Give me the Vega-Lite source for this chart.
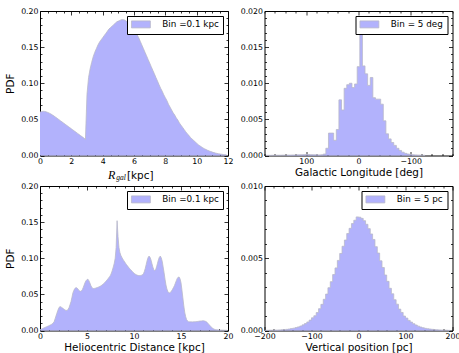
{
  "$schema": "https://vega.github.io/schema/vega-lite/v6.json",
  "background": "white",
  "padding": {"left": 5, "top": 6, "right": 0, "bottom": 0},
  "datasets": {
    "rgal": [
      {"lo": 0.0, "pdf": 0.0600}, {"lo": 0.1, "pdf": 0.0608}, {"lo": 0.2, "pdf": 0.0612}, {"lo": 0.3, "pdf": 0.0610},
      {"lo": 0.4, "pdf": 0.0604}, {"lo": 0.5, "pdf": 0.0596}, {"lo": 0.6, "pdf": 0.0586}, {"lo": 0.7, "pdf": 0.0574},
      {"lo": 0.8, "pdf": 0.0560}, {"lo": 0.9, "pdf": 0.0545}, {"lo": 1.0, "pdf": 0.0530}, {"lo": 1.1, "pdf": 0.0514},
      {"lo": 1.2, "pdf": 0.0498}, {"lo": 1.3, "pdf": 0.0482}, {"lo": 1.4, "pdf": 0.0466}, {"lo": 1.5, "pdf": 0.0450},
      {"lo": 1.6, "pdf": 0.0434}, {"lo": 1.7, "pdf": 0.0418}, {"lo": 1.8, "pdf": 0.0402}, {"lo": 1.9, "pdf": 0.0386},
      {"lo": 2.0, "pdf": 0.0370}, {"lo": 2.1, "pdf": 0.0354}, {"lo": 2.2, "pdf": 0.0338}, {"lo": 2.3, "pdf": 0.0322},
      {"lo": 2.4, "pdf": 0.0306}, {"lo": 2.5, "pdf": 0.0290}, {"lo": 2.6, "pdf": 0.0274}, {"lo": 2.7, "pdf": 0.0258},
      {"lo": 2.8, "pdf": 0.0242}, {"lo": 2.9, "pdf": 0.0222}, {"lo": 3.0, "pdf": 0.085}, {"lo": 3.1, "pdf": 0.108},
      {"lo": 3.2, "pdf": 0.120}, {"lo": 3.3, "pdf": 0.129}, {"lo": 3.4, "pdf": 0.137}, {"lo": 3.5, "pdf": 0.143},
      {"lo": 3.6, "pdf": 0.148}, {"lo": 3.7, "pdf": 0.153}, {"lo": 3.8, "pdf": 0.157}, {"lo": 3.9, "pdf": 0.160},
      {"lo": 4.0, "pdf": 0.163}, {"lo": 4.1, "pdf": 0.166}, {"lo": 4.2, "pdf": 0.169}, {"lo": 4.3, "pdf": 0.172},
      {"lo": 4.4, "pdf": 0.175}, {"lo": 4.5, "pdf": 0.177}, {"lo": 4.6, "pdf": 0.179}, {"lo": 4.7, "pdf": 0.181},
      {"lo": 4.8, "pdf": 0.183}, {"lo": 4.9, "pdf": 0.185}, {"lo": 5.0, "pdf": 0.186}, {"lo": 5.1, "pdf": 0.187},
      {"lo": 5.2, "pdf": 0.188}, {"lo": 5.3, "pdf": 0.188}, {"lo": 5.4, "pdf": 0.1875}, {"lo": 5.5, "pdf": 0.186},
      {"lo": 5.6, "pdf": 0.185}, {"lo": 5.7, "pdf": 0.183}, {"lo": 5.8, "pdf": 0.181}, {"lo": 5.9, "pdf": 0.178},
      {"lo": 6.0, "pdf": 0.175}, {"lo": 6.1, "pdf": 0.171}, {"lo": 6.2, "pdf": 0.167}, {"lo": 6.3, "pdf": 0.163},
      {"lo": 6.4, "pdf": 0.158}, {"lo": 6.5, "pdf": 0.153}, {"lo": 6.6, "pdf": 0.148}, {"lo": 6.7, "pdf": 0.143},
      {"lo": 6.8, "pdf": 0.138}, {"lo": 6.9, "pdf": 0.133}, {"lo": 7.0, "pdf": 0.128}, {"lo": 7.1, "pdf": 0.123},
      {"lo": 7.2, "pdf": 0.118}, {"lo": 7.3, "pdf": 0.113}, {"lo": 7.4, "pdf": 0.108}, {"lo": 7.5, "pdf": 0.103},
      {"lo": 7.6, "pdf": 0.098}, {"lo": 7.7, "pdf": 0.093}, {"lo": 7.8, "pdf": 0.089}, {"lo": 7.9, "pdf": 0.084},
      {"lo": 8.0, "pdf": 0.080}, {"lo": 8.1, "pdf": 0.076}, {"lo": 8.2, "pdf": 0.071}, {"lo": 8.3, "pdf": 0.067},
      {"lo": 8.4, "pdf": 0.063}, {"lo": 8.5, "pdf": 0.059}, {"lo": 8.6, "pdf": 0.056}, {"lo": 8.7, "pdf": 0.052},
      {"lo": 8.8, "pdf": 0.049}, {"lo": 8.9, "pdf": 0.045}, {"lo": 9.0, "pdf": 0.042}, {"lo": 9.1, "pdf": 0.039},
      {"lo": 9.2, "pdf": 0.036}, {"lo": 9.3, "pdf": 0.033}, {"lo": 9.4, "pdf": 0.030}, {"lo": 9.5, "pdf": 0.028},
      {"lo": 9.6, "pdf": 0.025}, {"lo": 9.7, "pdf": 0.023}, {"lo": 9.8, "pdf": 0.021}, {"lo": 9.9, "pdf": 0.019},
      {"lo": 10.0, "pdf": 0.017}, {"lo": 10.1, "pdf": 0.015}, {"lo": 10.2, "pdf": 0.0135}, {"lo": 10.3, "pdf": 0.012},
      {"lo": 10.4, "pdf": 0.0105}, {"lo": 10.5, "pdf": 0.0093}, {"lo": 10.6, "pdf": 0.0082}, {"lo": 10.7, "pdf": 0.0072},
      {"lo": 10.8, "pdf": 0.0063}, {"lo": 10.9, "pdf": 0.0055}, {"lo": 11.0, "pdf": 0.0047}, {"lo": 11.1, "pdf": 0.0040},
      {"lo": 11.2, "pdf": 0.0034}, {"lo": 11.3, "pdf": 0.0029}, {"lo": 11.4, "pdf": 0.0024}, {"lo": 11.5, "pdf": 0.0020},
      {"lo": 11.6, "pdf": 0.0017}, {"lo": 11.7, "pdf": 0.0014}, {"lo": 11.8, "pdf": 0.0011}, {"lo": 11.9, "pdf": 0.0009}
    ],
    "glon": [
      {"lo": -127.5, "pdf": 0.00002}, {"lo": -122.5, "pdf": 0.00003}, {"lo": -117.5, "pdf": 0.00004}, {"lo": -112.5, "pdf": 0.00006},
      {"lo": -107.5, "pdf": 0.00008}, {"lo": -102.5, "pdf": 0.0001}, {"lo": -97.5, "pdf": 0.00015}, {"lo": -92.5, "pdf": 0.0002},
      {"lo": -87.5, "pdf": 0.0003}, {"lo": -82.5, "pdf": 0.00046}, {"lo": -77.5, "pdf": 0.0007}, {"lo": -72.5, "pdf": 0.001},
      {"lo": -67.5, "pdf": 0.0014}, {"lo": -62.5, "pdf": 0.0018}, {"lo": -57.5, "pdf": 0.0023}, {"lo": -52.5, "pdf": 0.003},
      {"lo": -47.5, "pdf": 0.0048}, {"lo": -42.5, "pdf": 0.0071}, {"lo": -37.5, "pdf": 0.0078}, {"lo": -32.5, "pdf": 0.0078},
      {"lo": -27.5, "pdf": 0.0080}, {"lo": -22.5, "pdf": 0.0108}, {"lo": -17.5, "pdf": 0.0097}, {"lo": -12.5, "pdf": 0.0113},
      {"lo": -7.5, "pdf": 0.0124}, {"lo": -2.5, "pdf": 0.0168}, {"lo": 2.5, "pdf": 0.0123}, {"lo": 7.5, "pdf": 0.0099},
      {"lo": 12.5, "pdf": 0.0094}, {"lo": 17.5, "pdf": 0.0100}, {"lo": 22.5, "pdf": 0.0098}, {"lo": 27.5, "pdf": 0.0093},
      {"lo": 32.5, "pdf": 0.0063}, {"lo": 37.5, "pdf": 0.0077}, {"lo": 42.5, "pdf": 0.0036}, {"lo": 47.5, "pdf": 0.0021},
      {"lo": 52.5, "pdf": 0.0031}, {"lo": 57.5, "pdf": 0.0031}, {"lo": 62.5, "pdf": 0.001}, {"lo": 67.5, "pdf": 0.0002},
      {"lo": 72.5, "pdf": 0.0001}, {"lo": 77.5, "pdf": 0.00008}, {"lo": 82.5, "pdf": 0.00009}, {"lo": 87.5, "pdf": 0.0001},
      {"lo": 92.5, "pdf": 0.00012}, {"lo": 97.5, "pdf": 0.00014}, {"lo": 102.5, "pdf": 0.00013}, {"lo": 107.5, "pdf": 0.00012},
      {"lo": 112.5, "pdf": 0.0001}, {"lo": 117.5, "pdf": 0.00009}, {"lo": 122.5, "pdf": 0.00008}, {"lo": 127.5, "pdf": 0.00007},
      {"lo": 132.5, "pdf": 0.00006}, {"lo": 137.5, "pdf": 0.00006}, {"lo": 142.5, "pdf": 0.00005}, {"lo": 147.5, "pdf": 0.00005},
      {"lo": 152.5, "pdf": 0.00004}, {"lo": 157.5, "pdf": 0.00004}, {"lo": 162.5, "pdf": 0.00003}, {"lo": 167.5, "pdf": 0.00003},
      {"lo": 172.5, "pdf": 0.00002}, {"lo": 177.5, "pdf": 0.00002}
    ],
    "dhel": [
      {"lo": 0.0, "pdf": 0.0010}, {"lo": 0.1, "pdf": 0.0016}, {"lo": 0.2, "pdf": 0.0022}, {"lo": 0.3, "pdf": 0.0028},
      {"lo": 0.4, "pdf": 0.0034}, {"lo": 0.5, "pdf": 0.0040}, {"lo": 0.6, "pdf": 0.0046}, {"lo": 0.7, "pdf": 0.0052},
      {"lo": 0.8, "pdf": 0.0058}, {"lo": 0.9, "pdf": 0.0064}, {"lo": 1.0, "pdf": 0.0070}, {"lo": 1.1, "pdf": 0.0076},
      {"lo": 1.2, "pdf": 0.0083}, {"lo": 1.3, "pdf": 0.0090}, {"lo": 1.4, "pdf": 0.0105}, {"lo": 1.5, "pdf": 0.0120},
      {"lo": 1.6, "pdf": 0.0160}, {"lo": 1.7, "pdf": 0.0200}, {"lo": 1.8, "pdf": 0.0240}, {"lo": 1.9, "pdf": 0.0280},
      {"lo": 2.0, "pdf": 0.0310}, {"lo": 2.1, "pdf": 0.0330}, {"lo": 2.2, "pdf": 0.0328}, {"lo": 2.3, "pdf": 0.0320},
      {"lo": 2.4, "pdf": 0.0310}, {"lo": 2.5, "pdf": 0.0300}, {"lo": 2.6, "pdf": 0.0290}, {"lo": 2.7, "pdf": 0.0282},
      {"lo": 2.8, "pdf": 0.0278}, {"lo": 2.9, "pdf": 0.0280}, {"lo": 3.0, "pdf": 0.0295}, {"lo": 3.1, "pdf": 0.0320},
      {"lo": 3.2, "pdf": 0.0360}, {"lo": 3.3, "pdf": 0.0400}, {"lo": 3.4, "pdf": 0.0460}, {"lo": 3.5, "pdf": 0.0520},
      {"lo": 3.6, "pdf": 0.0555}, {"lo": 3.7, "pdf": 0.0580}, {"lo": 3.8, "pdf": 0.0590}, {"lo": 3.9, "pdf": 0.0592},
      {"lo": 4.0, "pdf": 0.0580}, {"lo": 4.1, "pdf": 0.0562}, {"lo": 4.2, "pdf": 0.0550}, {"lo": 4.3, "pdf": 0.0542},
      {"lo": 4.4, "pdf": 0.0548}, {"lo": 4.5, "pdf": 0.0565}, {"lo": 4.6, "pdf": 0.0595}, {"lo": 4.7, "pdf": 0.0630},
      {"lo": 4.8, "pdf": 0.0665}, {"lo": 4.9, "pdf": 0.0690}, {"lo": 5.0, "pdf": 0.0705}, {"lo": 5.1, "pdf": 0.0710},
      {"lo": 5.2, "pdf": 0.0690}, {"lo": 5.3, "pdf": 0.0660}, {"lo": 5.4, "pdf": 0.0625}, {"lo": 5.5, "pdf": 0.0600},
      {"lo": 5.6, "pdf": 0.0585}, {"lo": 5.7, "pdf": 0.0580}, {"lo": 5.8, "pdf": 0.0583}, {"lo": 5.9, "pdf": 0.0586},
      {"lo": 6.0, "pdf": 0.0590}, {"lo": 6.1, "pdf": 0.0595}, {"lo": 6.2, "pdf": 0.0600}, {"lo": 6.3, "pdf": 0.0606},
      {"lo": 6.4, "pdf": 0.0612}, {"lo": 6.5, "pdf": 0.0620}, {"lo": 6.6, "pdf": 0.0630}, {"lo": 6.7, "pdf": 0.0640},
      {"lo": 6.8, "pdf": 0.0652}, {"lo": 6.9, "pdf": 0.0665}, {"lo": 7.0, "pdf": 0.0680}, {"lo": 7.1, "pdf": 0.0695},
      {"lo": 7.2, "pdf": 0.0710}, {"lo": 7.3, "pdf": 0.0728}, {"lo": 7.4, "pdf": 0.0745}, {"lo": 7.5, "pdf": 0.0765},
      {"lo": 7.6, "pdf": 0.0795}, {"lo": 7.7, "pdf": 0.0835}, {"lo": 7.8, "pdf": 0.0880}, {"lo": 7.9, "pdf": 0.0930},
      {"lo": 8.0, "pdf": 0.1000}, {"lo": 8.1, "pdf": 0.1150}, {"lo": 8.2, "pdf": 0.1520}, {"lo": 8.3, "pdf": 0.1300},
      {"lo": 8.4, "pdf": 0.1150}, {"lo": 8.5, "pdf": 0.1080}, {"lo": 8.6, "pdf": 0.1040}, {"lo": 8.7, "pdf": 0.1015},
      {"lo": 8.8, "pdf": 0.0990}, {"lo": 8.9, "pdf": 0.0970}, {"lo": 9.0, "pdf": 0.0950}, {"lo": 9.1, "pdf": 0.0930},
      {"lo": 9.2, "pdf": 0.0912}, {"lo": 9.3, "pdf": 0.0895}, {"lo": 9.4, "pdf": 0.0878}, {"lo": 9.5, "pdf": 0.0862},
      {"lo": 9.6, "pdf": 0.0848}, {"lo": 9.7, "pdf": 0.0835}, {"lo": 9.8, "pdf": 0.0820}, {"lo": 9.9, "pdf": 0.0805},
      {"lo": 10.0, "pdf": 0.0792}, {"lo": 10.1, "pdf": 0.0783}, {"lo": 10.2, "pdf": 0.0775}, {"lo": 10.3, "pdf": 0.0768},
      {"lo": 10.4, "pdf": 0.0763}, {"lo": 10.5, "pdf": 0.0760}, {"lo": 10.6, "pdf": 0.0760}, {"lo": 10.7, "pdf": 0.0762},
      {"lo": 10.8, "pdf": 0.0765}, {"lo": 10.9, "pdf": 0.0770}, {"lo": 11.0, "pdf": 0.0785}, {"lo": 11.1, "pdf": 0.0815},
      {"lo": 11.2, "pdf": 0.0860}, {"lo": 11.3, "pdf": 0.0915}, {"lo": 11.4, "pdf": 0.0970}, {"lo": 11.5, "pdf": 0.1010},
      {"lo": 11.6, "pdf": 0.1030}, {"lo": 11.7, "pdf": 0.1015}, {"lo": 11.8, "pdf": 0.0980}, {"lo": 11.9, "pdf": 0.0930},
      {"lo": 12.0, "pdf": 0.0880}, {"lo": 12.1, "pdf": 0.0845}, {"lo": 12.2, "pdf": 0.0830}, {"lo": 12.3, "pdf": 0.0840},
      {"lo": 12.4, "pdf": 0.0880}, {"lo": 12.5, "pdf": 0.0930}, {"lo": 12.6, "pdf": 0.0980}, {"lo": 12.7, "pdf": 0.1015},
      {"lo": 12.8, "pdf": 0.1030}, {"lo": 12.9, "pdf": 0.1005}, {"lo": 13.0, "pdf": 0.0960}, {"lo": 13.1, "pdf": 0.0880},
      {"lo": 13.2, "pdf": 0.0800}, {"lo": 13.3, "pdf": 0.0710}, {"lo": 13.4, "pdf": 0.0630}, {"lo": 13.5, "pdf": 0.0575},
      {"lo": 13.6, "pdf": 0.0540}, {"lo": 13.7, "pdf": 0.0525}, {"lo": 13.8, "pdf": 0.0520}, {"lo": 13.9, "pdf": 0.0530},
      {"lo": 14.0, "pdf": 0.0550}, {"lo": 14.1, "pdf": 0.0570}, {"lo": 14.2, "pdf": 0.0595}, {"lo": 14.3, "pdf": 0.0620},
      {"lo": 14.4, "pdf": 0.0655}, {"lo": 14.5, "pdf": 0.0690}, {"lo": 14.6, "pdf": 0.0720}, {"lo": 14.7, "pdf": 0.0738},
      {"lo": 14.8, "pdf": 0.0740}, {"lo": 14.9, "pdf": 0.0715}, {"lo": 15.0, "pdf": 0.0660}, {"lo": 15.1, "pdf": 0.0560},
      {"lo": 15.2, "pdf": 0.0450}, {"lo": 15.3, "pdf": 0.0340}, {"lo": 15.4, "pdf": 0.0250}, {"lo": 15.5, "pdf": 0.0190},
      {"lo": 15.6, "pdf": 0.0150}, {"lo": 15.7, "pdf": 0.0130}, {"lo": 15.8, "pdf": 0.0122}, {"lo": 15.9, "pdf": 0.0120},
      {"lo": 16.0, "pdf": 0.0120}, {"lo": 16.1, "pdf": 0.0120}, {"lo": 16.2, "pdf": 0.0119}, {"lo": 16.3, "pdf": 0.0120},
      {"lo": 16.4, "pdf": 0.0121}, {"lo": 16.5, "pdf": 0.0121}, {"lo": 16.6, "pdf": 0.0122}, {"lo": 16.7, "pdf": 0.0124},
      {"lo": 16.8, "pdf": 0.0126}, {"lo": 16.9, "pdf": 0.0128}, {"lo": 17.0, "pdf": 0.0130}, {"lo": 17.1, "pdf": 0.0132},
      {"lo": 17.2, "pdf": 0.0133}, {"lo": 17.3, "pdf": 0.0135}, {"lo": 17.4, "pdf": 0.0135}, {"lo": 17.5, "pdf": 0.0132},
      {"lo": 17.6, "pdf": 0.0127}, {"lo": 17.7, "pdf": 0.0120}, {"lo": 17.8, "pdf": 0.0110}, {"lo": 17.9, "pdf": 0.0095},
      {"lo": 18.0, "pdf": 0.0080}, {"lo": 18.1, "pdf": 0.0065}, {"lo": 18.2, "pdf": 0.0050}, {"lo": 18.3, "pdf": 0.0038},
      {"lo": 18.4, "pdf": 0.0028}, {"lo": 18.5, "pdf": 0.0020}, {"lo": 18.6, "pdf": 0.0015}, {"lo": 18.7, "pdf": 0.0012},
      {"lo": 18.8, "pdf": 0.0010}, {"lo": 18.9, "pdf": 0.0009}, {"lo": 19.0, "pdf": 0.0008}, {"lo": 19.1, "pdf": 0.0007},
      {"lo": 19.2, "pdf": 0.0006}, {"lo": 19.3, "pdf": 0.0005}, {"lo": 19.4, "pdf": 0.0005}, {"lo": 19.5, "pdf": 0.0004},
      {"lo": 19.6, "pdf": 0.0004}, {"lo": 19.7, "pdf": 0.0003}, {"lo": 19.8, "pdf": 0.0003}, {"lo": 19.9, "pdf": 0.0002}
    ],
    "zpos": [
      {"lo": -200, "pdf": 0.00001}, {"lo": -195, "pdf": 0.00001}, {"lo": -190, "pdf": 0.00002}, {"lo": -185, "pdf": 0.00002},
      {"lo": -180, "pdf": 0.00003}, {"lo": -175, "pdf": 0.00003}, {"lo": -170, "pdf": 0.00004}, {"lo": -165, "pdf": 0.00005},
      {"lo": -160, "pdf": 0.00006}, {"lo": -155, "pdf": 0.00008}, {"lo": -150, "pdf": 0.0001}, {"lo": -145, "pdf": 0.00013},
      {"lo": -140, "pdf": 0.00016}, {"lo": -135, "pdf": 0.0002}, {"lo": -130, "pdf": 0.00025}, {"lo": -125, "pdf": 0.00031},
      {"lo": -120, "pdf": 0.00039}, {"lo": -115, "pdf": 0.00048}, {"lo": -110, "pdf": 0.00059}, {"lo": -105, "pdf": 0.00072},
      {"lo": -100, "pdf": 0.00088}, {"lo": -95, "pdf": 0.00102}, {"lo": -90, "pdf": 0.00124}, {"lo": -85, "pdf": 0.00151},
      {"lo": -80, "pdf": 0.00181}, {"lo": -75, "pdf": 0.00216}, {"lo": -70, "pdf": 0.00252}, {"lo": -65, "pdf": 0.00296},
      {"lo": -60, "pdf": 0.00338}, {"lo": -55, "pdf": 0.00387}, {"lo": -50, "pdf": 0.00433}, {"lo": -45, "pdf": 0.00485},
      {"lo": -40, "pdf": 0.00533}, {"lo": -35, "pdf": 0.00583}, {"lo": -30, "pdf": 0.00626}, {"lo": -25, "pdf": 0.00671},
      {"lo": -20, "pdf": 0.00707}, {"lo": -15, "pdf": 0.00740}, {"lo": -10, "pdf": 0.00763}, {"lo": -5, "pdf": 0.00786},
      {"lo": 0, "pdf": 0.00784}, {"lo": 5, "pdf": 0.00776}, {"lo": 10, "pdf": 0.00760}, {"lo": 15, "pdf": 0.00735},
      {"lo": 20, "pdf": 0.00705}, {"lo": 25, "pdf": 0.00668}, {"lo": 30, "pdf": 0.00630}, {"lo": 35, "pdf": 0.00580},
      {"lo": 40, "pdf": 0.00536}, {"lo": 45, "pdf": 0.00482}, {"lo": 50, "pdf": 0.00436}, {"lo": 55, "pdf": 0.00384},
      {"lo": 60, "pdf": 0.00340}, {"lo": 65, "pdf": 0.00292}, {"lo": 70, "pdf": 0.00254}, {"lo": 75, "pdf": 0.00213},
      {"lo": 80, "pdf": 0.00182}, {"lo": 85, "pdf": 0.00148}, {"lo": 90, "pdf": 0.00125}, {"lo": 95, "pdf": 0.00100},
      {"lo": 100, "pdf": 0.00086}, {"lo": 105, "pdf": 0.00070}, {"lo": 110, "pdf": 0.00058}, {"lo": 115, "pdf": 0.00047},
      {"lo": 120, "pdf": 0.00038}, {"lo": 125, "pdf": 0.0003}, {"lo": 130, "pdf": 0.00024}, {"lo": 135, "pdf": 0.00019},
      {"lo": 140, "pdf": 0.00015}, {"lo": 145, "pdf": 0.00012}, {"lo": 150, "pdf": 0.0001}, {"lo": 155, "pdf": 0.00008},
      {"lo": 160, "pdf": 0.00006}, {"lo": 165, "pdf": 0.00005}, {"lo": 170, "pdf": 0.00004}, {"lo": 175, "pdf": 0.00003},
      {"lo": 180, "pdf": 0.00002}, {"lo": 185, "pdf": 0.00002}, {"lo": 190, "pdf": 0.00001}, {"lo": 195, "pdf": 0.00001}
    ]
  },
  "columns": 2,
  "bounds": "flush",
  "spacing": {"row": 30, "column": 36.5},
  "resolve": {"scale": {"color": "independent"}, "legend": {"color": "independent"}},
  "concat": [
    {
      "width": 188, "height": 144.5,
      "data": {"name": "rgal"},
      "resolve": {"axis": {"x": "independent", "y": "independent"}},
      "layer": [
        {
          "mark": {"type": "area", "orient": "vertical", "interpolate": "linear"},
          "encoding": {
            "x": {"field": "lo", "type": "quantitative", "scale": {"domain": [0, 12], "nice": false, "zero": false},
                  "axis": {"orient": "bottom", "values": [0, 2, 4, 6, 8, 10, 12], "format": "d", "ticks": false, "labelPadding": 2,
                           "title": "[kpc]", "titleX": 86.5, "titleY": 22.5, "titleAlign": "left", "titleBaseline": "alphabetic"}},
            "y": {"field": "pdf", "type": "quantitative", "stack": null, "scale": {"domain": [0, 0.2], "nice": false},
                  "axis": {"orient": "left", "values": [0, 0.05, 0.1, 0.15, 0.2], "format": ".2f", "ticks": false, "labelPadding": 2,
                           "title": "PDF", "titlePadding": 5}},
            "color": {"datum": "Bin =0.1 kpc", "scale": {"range": ["#b2b2fc"]}, "legend": {"title": null}}
          }
        },
        {
          "mark": {"type": "line", "interpolate": "linear", "stroke": "#b9b9c9", "strokeWidth": 0.8},
          "encoding": {
            "x": {"field": "lo", "type": "quantitative", "scale": {"domain": [0, 12], "nice": false, "zero": false}, "axis": null},
            "y": {"field": "pdf", "type": "quantitative", "scale": {"domain": [0, 0.2], "nice": false}, "axis": null}
          }
        },
        {
          "mark": {"type": "point", "opacity": 0},
          "encoding": {
            "x": {"field": "lo", "type": "quantitative", "scale": {"domain": [0, 12], "nice": false, "zero": false},
                  "axis": {"orient": "bottom", "values": [0, 2, 4, 6, 8, 10, 12], "labels": false, "tickSize": -4,
                           "title": "R", "titleFont": "Liberation Serif", "titleFontStyle": "italic", "titleFontSize": 12,
                           "titleX": 67.5, "titleY": 22.5, "titleAlign": "left", "titleBaseline": "alphabetic"}},
            "y": {"field": "pdf", "type": "quantitative", "scale": {"domain": [0, 0.2], "nice": false},
                  "axis": {"orient": "left", "values": [0, 0.05, 0.1, 0.15, 0.2], "labels": false, "tickSize": -4, "title": null}}
          }
        },
        {
          "mark": {"type": "point", "opacity": 0},
          "encoding": {
            "x": {"field": "lo", "type": "quantitative", "scale": {"domain": [0, 12], "nice": false, "zero": false},
                  "axis": {"orient": "bottom", "values": [0.5, 1, 1.5, 2.5, 3, 3.5, 4.5, 5, 5.5, 6.5, 7, 7.5, 8.5, 9, 9.5, 10.5, 11, 11.5],
                           "labels": false, "tickSize": -2,
                           "title": "gal", "titleFont": "Liberation Serif", "titleFontStyle": "italic", "titleFontSize": 7.5,
                           "titleX": 75.8, "titleY": 24, "titleAlign": "left", "titleBaseline": "alphabetic"}},
            "y": {"field": "pdf", "type": "quantitative", "scale": {"domain": [0, 0.2], "nice": false},
                  "axis": {"orient": "left", "values": [0.01, 0.02, 0.03, 0.04, 0.06, 0.07, 0.08, 0.09, 0.11, 0.12, 0.13, 0.14, 0.16, 0.17, 0.18, 0.19],
                           "labels": false, "tickSize": -2, "title": null}}
          }
        },
        {
          "mark": {"type": "point", "opacity": 0},
          "encoding": {
            "x": {"field": "lo", "type": "quantitative", "scale": {"domain": [0, 12], "nice": false, "zero": false},
                  "axis": {"orient": "top", "values": [0, 2, 4, 6, 8, 10, 12], "labels": false, "tickSize": -4, "title": null}},
            "y": {"field": "pdf", "type": "quantitative", "scale": {"domain": [0, 0.2], "nice": false},
                  "axis": {"orient": "right", "values": [0, 0.05, 0.1, 0.15, 0.2], "labels": false, "tickSize": -4, "title": null}}
          }
        },
        {
          "mark": {"type": "point", "opacity": 0},
          "encoding": {
            "x": {"field": "lo", "type": "quantitative", "scale": {"domain": [0, 12], "nice": false, "zero": false},
                  "axis": {"orient": "top", "values": [0.5, 1, 1.5, 2.5, 3, 3.5, 4.5, 5, 5.5, 6.5, 7, 7.5, 8.5, 9, 9.5, 10.5, 11, 11.5],
                           "labels": false, "tickSize": -2, "title": null}},
            "y": {"field": "pdf", "type": "quantitative", "scale": {"domain": [0, 0.2], "nice": false},
                  "axis": {"orient": "right", "values": [0.01, 0.02, 0.03, 0.04, 0.06, 0.07, 0.08, 0.09, 0.11, 0.12, 0.13, 0.14, 0.16, 0.17, 0.18, 0.19],
                           "labels": false, "tickSize": -2, "title": null}}
          }
        }
      ]
    },
    {
      "width": 188, "height": 144.5,
      "data": {"name": "glon"},
      "resolve": {"axis": {"x": "independent", "y": "independent"}},
      "layer": [
        {
          "mark": {"type": "area", "orient": "vertical", "interpolate": "step-after"},
          "encoding": {
            "x": {"field": "lo", "type": "quantitative", "scale": {"domain": [-180, 180], "reverse": true, "nice": false, "zero": false},
                  "axis": {"orient": "bottom", "values": [-100, 0, 100], "format": "d", "ticks": false, "labelPadding": 2,
                           "title": "Galactic Longitude [deg]", "titlePadding": 2}},
            "y": {"field": "pdf", "type": "quantitative", "stack": null, "scale": {"domain": [0, 0.02], "nice": false},
                  "axis": {"orient": "left", "values": [0, 0.005, 0.01, 0.015, 0.02], "format": ".3f", "ticks": false, "labelPadding": 2, "title": null}},
            "color": {"datum": "Bin = 5 deg", "scale": {"range": ["#b2b2fc"]}, "legend": {"title": null}}
          }
        },
        {
          "mark": {"type": "line", "interpolate": "step-after", "stroke": "#b9b9c9", "strokeWidth": 0.8},
          "encoding": {
            "x": {"field": "lo", "type": "quantitative", "scale": {"domain": [-180, 180], "reverse": true, "nice": false, "zero": false}, "axis": null},
            "y": {"field": "pdf", "type": "quantitative", "scale": {"domain": [0, 0.02], "nice": false}, "axis": null}
          }
        },
        {
          "mark": {"type": "point", "opacity": 0},
          "encoding": {
            "x": {"field": "lo", "type": "quantitative", "scale": {"domain": [-180, 180], "reverse": true, "nice": false, "zero": false},
                  "axis": {"orient": "bottom", "values": [-100, 0, 100], "labels": false, "tickSize": -4, "title": null}},
            "y": {"field": "pdf", "type": "quantitative", "scale": {"domain": [0, 0.02], "nice": false},
                  "axis": {"orient": "left", "values": [0, 0.005, 0.01, 0.015, 0.02], "labels": false, "tickSize": -4, "title": null}}
          }
        },
        {
          "mark": {"type": "point", "opacity": 0},
          "encoding": {
            "x": {"field": "lo", "type": "quantitative", "scale": {"domain": [-180, 180], "reverse": true, "nice": false, "zero": false},
                  "axis": {"orient": "bottom", "values": [-180, -160, -140, -120, -80, -60, -40, -20, 20, 40, 60, 80, 120, 140, 160, 180],
                           "labels": false, "tickSize": -2, "title": null}},
            "y": {"field": "pdf", "type": "quantitative", "scale": {"domain": [0, 0.02], "nice": false},
                  "axis": {"orient": "left", "values": [0.001, 0.002, 0.003, 0.004, 0.006, 0.007, 0.008, 0.009, 0.011, 0.012, 0.013, 0.014, 0.016, 0.017, 0.018, 0.019],
                           "labels": false, "tickSize": -2, "title": null}}
          }
        },
        {
          "mark": {"type": "point", "opacity": 0},
          "encoding": {
            "x": {"field": "lo", "type": "quantitative", "scale": {"domain": [-180, 180], "reverse": true, "nice": false, "zero": false},
                  "axis": {"orient": "top", "values": [-100, 0, 100], "labels": false, "tickSize": -4, "title": null}},
            "y": {"field": "pdf", "type": "quantitative", "scale": {"domain": [0, 0.02], "nice": false},
                  "axis": {"orient": "right", "values": [0, 0.005, 0.01, 0.015, 0.02], "labels": false, "tickSize": -4, "title": null}}
          }
        },
        {
          "mark": {"type": "point", "opacity": 0},
          "encoding": {
            "x": {"field": "lo", "type": "quantitative", "scale": {"domain": [-180, 180], "reverse": true, "nice": false, "zero": false},
                  "axis": {"orient": "top", "values": [-180, -160, -140, -120, -80, -60, -40, -20, 20, 40, 60, 80, 120, 140, 160, 180],
                           "labels": false, "tickSize": -2, "title": null}},
            "y": {"field": "pdf", "type": "quantitative", "scale": {"domain": [0, 0.02], "nice": false},
                  "axis": {"orient": "right", "values": [0.001, 0.002, 0.003, 0.004, 0.006, 0.007, 0.008, 0.009, 0.011, 0.012, 0.013, 0.014, 0.016, 0.017, 0.018, 0.019],
                           "labels": false, "tickSize": -2, "title": null}}
          }
        }
      ]
    },
    {
      "width": 188, "height": 144.5,
      "data": {"name": "dhel"},
      "resolve": {"axis": {"x": "independent", "y": "independent"}},
      "layer": [
        {
          "mark": {"type": "area", "orient": "vertical", "interpolate": "linear"},
          "encoding": {
            "x": {"field": "lo", "type": "quantitative", "scale": {"domain": [0, 20], "nice": false, "zero": false},
                  "axis": {"orient": "bottom", "values": [0, 5, 10, 15, 20], "format": "d", "ticks": false, "labelPadding": 2,
                           "title": "Heliocentric Distance [kpc]", "titlePadding": 2}},
            "y": {"field": "pdf", "type": "quantitative", "stack": null, "scale": {"domain": [0, 0.2], "nice": false},
                  "axis": {"orient": "left", "values": [0, 0.05, 0.1, 0.15, 0.2], "format": ".2f", "ticks": false, "labelPadding": 2,
                           "title": "PDF", "titlePadding": 5}},
            "color": {"datum": "Bin =0.1 kpc", "scale": {"range": ["#b2b2fc"]}, "legend": {"title": null}}
          }
        },
        {
          "mark": {"type": "line", "interpolate": "linear", "stroke": "#b9b9c9", "strokeWidth": 0.8},
          "encoding": {
            "x": {"field": "lo", "type": "quantitative", "scale": {"domain": [0, 20], "nice": false, "zero": false}, "axis": null},
            "y": {"field": "pdf", "type": "quantitative", "scale": {"domain": [0, 0.2], "nice": false}, "axis": null}
          }
        },
        {
          "mark": {"type": "point", "opacity": 0},
          "encoding": {
            "x": {"field": "lo", "type": "quantitative", "scale": {"domain": [0, 20], "nice": false, "zero": false},
                  "axis": {"orient": "bottom", "values": [0, 5, 10, 15, 20], "labels": false, "tickSize": -4, "title": null}},
            "y": {"field": "pdf", "type": "quantitative", "scale": {"domain": [0, 0.2], "nice": false},
                  "axis": {"orient": "left", "values": [0, 0.05, 0.1, 0.15, 0.2], "labels": false, "tickSize": -4, "title": null}}
          }
        },
        {
          "mark": {"type": "point", "opacity": 0},
          "encoding": {
            "x": {"field": "lo", "type": "quantitative", "scale": {"domain": [0, 20], "nice": false, "zero": false},
                  "axis": {"orient": "bottom", "values": [1, 2, 3, 4, 6, 7, 8, 9, 11, 12, 13, 14, 16, 17, 18, 19],
                           "labels": false, "tickSize": -2, "title": null}},
            "y": {"field": "pdf", "type": "quantitative", "scale": {"domain": [0, 0.2], "nice": false},
                  "axis": {"orient": "left", "values": [0.01, 0.02, 0.03, 0.04, 0.06, 0.07, 0.08, 0.09, 0.11, 0.12, 0.13, 0.14, 0.16, 0.17, 0.18, 0.19],
                           "labels": false, "tickSize": -2, "title": null}}
          }
        },
        {
          "mark": {"type": "point", "opacity": 0},
          "encoding": {
            "x": {"field": "lo", "type": "quantitative", "scale": {"domain": [0, 20], "nice": false, "zero": false},
                  "axis": {"orient": "top", "values": [0, 5, 10, 15, 20], "labels": false, "tickSize": -4, "title": null}},
            "y": {"field": "pdf", "type": "quantitative", "scale": {"domain": [0, 0.2], "nice": false},
                  "axis": {"orient": "right", "values": [0, 0.05, 0.1, 0.15, 0.2], "labels": false, "tickSize": -4, "title": null}}
          }
        },
        {
          "mark": {"type": "point", "opacity": 0},
          "encoding": {
            "x": {"field": "lo", "type": "quantitative", "scale": {"domain": [0, 20], "nice": false, "zero": false},
                  "axis": {"orient": "top", "values": [1, 2, 3, 4, 6, 7, 8, 9, 11, 12, 13, 14, 16, 17, 18, 19],
                           "labels": false, "tickSize": -2, "title": null}},
            "y": {"field": "pdf", "type": "quantitative", "scale": {"domain": [0, 0.2], "nice": false},
                  "axis": {"orient": "right", "values": [0.01, 0.02, 0.03, 0.04, 0.06, 0.07, 0.08, 0.09, 0.11, 0.12, 0.13, 0.14, 0.16, 0.17, 0.18, 0.19],
                           "labels": false, "tickSize": -2, "title": null}}
          }
        }
      ]
    },
    {
      "width": 188, "height": 144.5,
      "data": {"name": "zpos"},
      "resolve": {"axis": {"x": "independent", "y": "independent"}},
      "layer": [
        {
          "mark": {"type": "area", "orient": "vertical", "interpolate": "step-after"},
          "encoding": {
            "x": {"field": "lo", "type": "quantitative", "scale": {"domain": [-200, 200], "nice": false, "zero": false},
                  "axis": {"orient": "bottom", "values": [-200, -100, 0, 100, 200], "format": "d", "ticks": false, "labelPadding": 2,
                           "title": "Vertical position [pc]", "titlePadding": 2}},
            "y": {"field": "pdf", "type": "quantitative", "stack": null, "scale": {"domain": [0, 0.01], "nice": false},
                  "axis": {"orient": "left", "values": [0, 0.005, 0.01], "format": ".3f", "ticks": false, "labelPadding": 2, "title": null}},
            "color": {"datum": "Bin = 5 pc", "scale": {"range": ["#b2b2fc"]}, "legend": {"title": null}}
          }
        },
        {
          "mark": {"type": "line", "interpolate": "step-after", "stroke": "#b9b9c9", "strokeWidth": 0.8},
          "encoding": {
            "x": {"field": "lo", "type": "quantitative", "scale": {"domain": [-200, 200], "nice": false, "zero": false}, "axis": null},
            "y": {"field": "pdf", "type": "quantitative", "scale": {"domain": [0, 0.01], "nice": false}, "axis": null}
          }
        },
        {
          "mark": {"type": "point", "opacity": 0},
          "encoding": {
            "x": {"field": "lo", "type": "quantitative", "scale": {"domain": [-200, 200], "nice": false, "zero": false},
                  "axis": {"orient": "bottom", "values": [-200, -100, 0, 100, 200], "labels": false, "tickSize": -4, "title": null}},
            "y": {"field": "pdf", "type": "quantitative", "scale": {"domain": [0, 0.01], "nice": false},
                  "axis": {"orient": "left", "values": [0, 0.005, 0.01], "labels": false, "tickSize": -4, "title": null}}
          }
        },
        {
          "mark": {"type": "point", "opacity": 0},
          "encoding": {
            "x": {"field": "lo", "type": "quantitative", "scale": {"domain": [-200, 200], "nice": false, "zero": false},
                  "axis": {"orient": "bottom", "values": [-180, -160, -140, -120, -80, -60, -40, -20, 20, 40, 60, 80, 120, 140, 160, 180],
                           "labels": false, "tickSize": -2, "title": null}},
            "y": {"field": "pdf", "type": "quantitative", "scale": {"domain": [0, 0.01], "nice": false},
                  "axis": {"orient": "left", "values": [0.001, 0.002, 0.003, 0.004, 0.006, 0.007, 0.008, 0.009],
                           "labels": false, "tickSize": -2, "title": null}}
          }
        },
        {
          "mark": {"type": "point", "opacity": 0},
          "encoding": {
            "x": {"field": "lo", "type": "quantitative", "scale": {"domain": [-200, 200], "nice": false, "zero": false},
                  "axis": {"orient": "top", "values": [-200, -100, 0, 100, 200], "labels": false, "tickSize": -4, "title": null}},
            "y": {"field": "pdf", "type": "quantitative", "scale": {"domain": [0, 0.01], "nice": false},
                  "axis": {"orient": "right", "values": [0, 0.005, 0.01], "labels": false, "tickSize": -4, "title": null}}
          }
        },
        {
          "mark": {"type": "point", "opacity": 0},
          "encoding": {
            "x": {"field": "lo", "type": "quantitative", "scale": {"domain": [-200, 200], "nice": false, "zero": false},
                  "axis": {"orient": "top", "values": [-180, -160, -140, -120, -80, -60, -40, -20, 20, 40, 60, 80, 120, 140, 160, 180],
                           "labels": false, "tickSize": -2, "title": null}},
            "y": {"field": "pdf", "type": "quantitative", "scale": {"domain": [0, 0.01], "nice": false},
                  "axis": {"orient": "right", "values": [0.001, 0.002, 0.003, 0.004, 0.006, 0.007, 0.008, 0.009],
                           "labels": false, "tickSize": -2, "title": null}}
          }
        }
      ]
    }
  ],
  "config": {
    "font": "DejaVu Sans",
    "view": {"stroke": "black", "strokeWidth": 1},
    "axis": {
      "domain": false, "grid": false, "labelFlush": false, "labelOverlap": false, "labelBound": false,
      "labelFont": "DejaVu Sans", "labelFontSize": 7.8, "labelColor": "black",
      "titleFont": "DejaVu Sans", "titleFontSize": 10.4, "titleFontWeight": "normal", "titleColor": "black",
      "tickColor": "black", "tickWidth": 0.8
    },
    "legend": {
      "orient": "top-right", "offset": 5, "padding": 4,
      "strokeColor": "black", "fillColor": "white", "cornerRadius": 0,
      "labelFont": "DejaVu Sans", "labelFontSize": 8.8, "labelColor": "black",
      "symbolType": "M-2.7,-1L2.7,-1L2.7,1L-2.7,1Z", "symbolSize": 49, "symbolOffset": 5.5,
      "symbolStrokeColor": "#b9b9c9", "symbolStrokeWidth": 0.8, "symbolOpacity": 1, "labelOffset": 17
    }
  }
}
